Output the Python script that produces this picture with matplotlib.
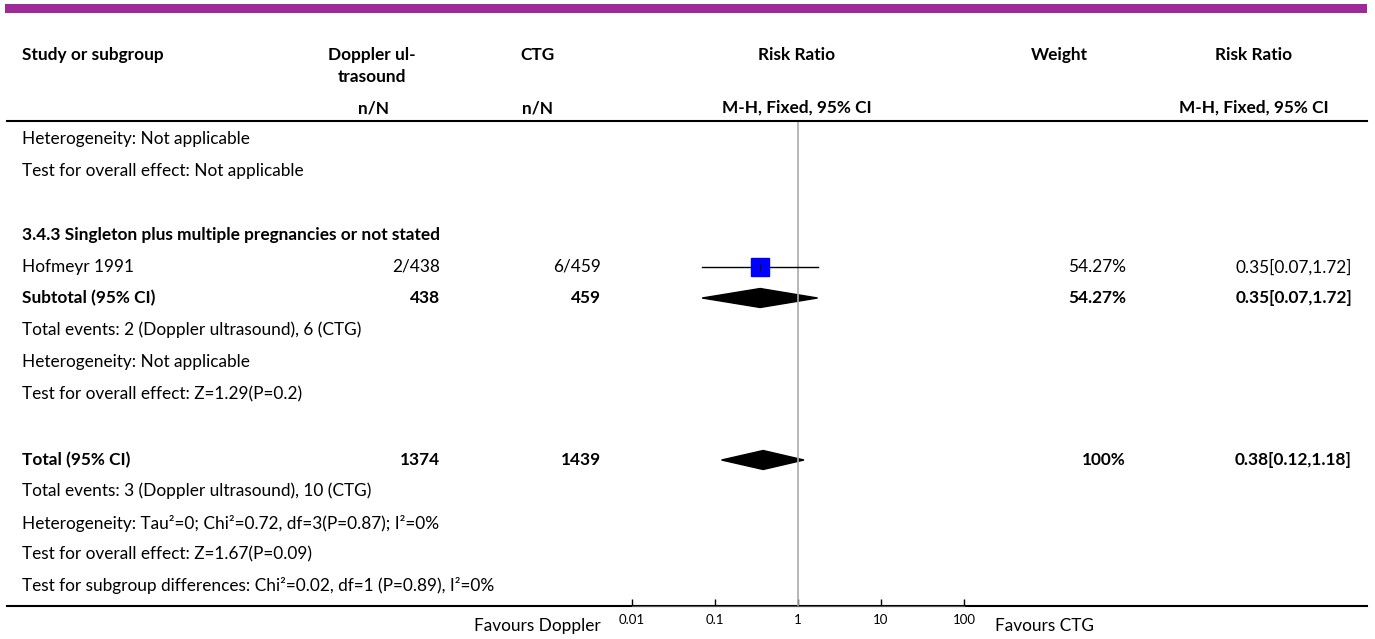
import matplotlib.pyplot as plt
from matplotlib.patches import Polygon, Rectangle

plt.rcParams['font.family'] = ['Lato', 'DejaVu Sans']

# data
study_names = ['Hofmeyr 1991']
doppler_nN = ['2/438']
ctg_nN = ['6/459']
study_rr = [0.35]
study_lo = [0.07]
study_hi = [1.72]
study_weight = ['54.27%']
study_ci_text = ['0.35[0.07,1.72]']

sub_rr, sub_lo, sub_hi = 0.35, 0.07, 1.72
tot_rr, tot_lo, tot_hi = 0.38, 0.12, 1.18
xticks = [0.01, 0.1, 1, 10, 100]
xtick_labels = ['0.01', '0.1', '1', '10', '100']

W, H = 1375, 639
fig = plt.figure(figsize=(W / 100, H / 100), dpi=100)
ax = fig.add_axes([0, 0, 1, 1])
ax.set_xlim(0, W)
ax.set_ylim(H, 0)
ax.axis('off')

fs = 12.4
purple = '#9e2a99'

# top bar
ax.add_patch(Rectangle((5, 4), 1362, 9, color=purple, lw=0))

# header
def hdr(x, y, s, ha='center'):
    ax.text(x, y, s, ha=ha, va='center', fontsize=fs, fontweight='bold')

hdr(22, 55, 'Study or subgroup', ha='left')
hdr(372, 55, 'Doppler ul-')
hdr(372, 77, 'trasound')
hdr(374, 108, 'n/N')
hdr(538, 55, 'CTG')
hdr(538, 108, 'n/N')
hdr(797, 55, 'Risk Ratio')
hdr(797, 108, 'M-H, Fixed, 95% CI')
hdr(1059, 55, 'Weight')
hdr(1254, 55, 'Risk Ratio')
hdr(1254, 108, 'M-H, Fixed, 95% CI')

ax.plot([7, 1367], [121, 121], color='black', lw=1.5)
ax.plot([7, 1367], [606, 606], color='black', lw=1.5)

def txt(x, y, s, ha='left', bold=False):
    ax.text(x, y, s, ha=ha, va='center', fontsize=fs,
            fontweight='bold' if bold else 'normal')

txt(22, 139, 'Heterogeneity: Not applicable')
txt(22, 171, 'Test for overall effect: Not applicable')
txt(22, 235, '3.4.3 Singleton plus multiple pregnancies or not stated', bold=True)

row_y = [267]
for i, y in enumerate(row_y):
    txt(22, y, study_names[i])
    txt(440, y, doppler_nN[i], ha='right')
    txt(601, y, ctg_nN[i], ha='right')
    txt(1126, y, study_weight[i], ha='right')
    txt(1352, y, study_ci_text[i], ha='right')

txt(22, 298, 'Subtotal (95% CI)', bold=True)
txt(440, 298, '438', ha='right', bold=True)
txt(601, 298, '459', ha='right', bold=True)
txt(1126, 298, '54.27%', ha='right', bold=True)
txt(1352, 298, '0.35[0.07,1.72]', ha='right', bold=True)
txt(22, 330, 'Total events: 2 (Doppler ultrasound), 6 (CTG)')
txt(22, 362, 'Heterogeneity: Not applicable')
txt(22, 394, 'Test for overall effect: Z=1.29(P=0.2)')

txt(22, 460, 'Total (95% CI)', bold=True)
txt(440, 460, '1374', ha='right', bold=True)
txt(601, 460, '1439', ha='right', bold=True)
txt(1126, 460, '100%', ha='right', bold=True)
txt(1352, 460, '0.38[0.12,1.18]', ha='right', bold=True)
txt(22, 491, 'Total events: 3 (Doppler ultrasound), 10 (CTG)')
txt(22, 523, 'Heterogeneity: Tau²=0; Chi²=0.72, df=3(P=0.87); I²=0%')
txt(22, 554, 'Test for overall effect: Z=1.67(P=0.09)')
txt(22, 586, 'Test for subgroup differences: Chi²=0.02, df=1 (P=0.89), I²=0%')

txt(601, 626, 'Favours Doppler', ha='right')
txt(995, 626, 'Favours CTG')

# forest axes: x 632..964 px, y 122..606 px
x0, x1 = 632, 964
y_top, y_bot = 122, 606
fa = fig.add_axes([x0 / W, 1 - y_bot / H, (x1 - x0) / W, (y_bot - y_top) / H])
fa.set_xscale('log')
fa.set_xlim(0.01, 100)
fa.set_ylim(y_bot, y_top)
fa.patch.set_alpha(0)
for s in ['top', 'right', 'left']:
    fa.spines[s].set_visible(False)
fa.spines['bottom'].set_color('#555555')
fa.set_yticks([])
fa.minorticks_off()
fa.set_xticks(xticks)
fa.set_xticklabels(xtick_labels, fontsize=9.5)
fa.tick_params(axis='x', direction='in', length=5, width=1, pad=6)
fa.axvline(1, color='#aaaaaa', lw=1.2)

for i, y in enumerate(row_y):
    fa.plot([study_lo[i], study_hi[i]], [y, y], color='black', lw=1)
    fa.plot(study_rr[i], y, marker='s', ms=13, color='#0000ff', mec='#0000ff')
    fa.plot([study_rr[i], study_rr[i]], [y - 3, y + 3], color='black', lw=0.8)

def diamond(rr, lo, hi, y, h=9.5):
    fa.add_patch(Polygon([(lo, y), (rr, y - h), (hi, y), (rr, y + h)],
                         closed=True, color='black', transform=fa.transData))

diamond(sub_rr, sub_lo, sub_hi, 298)
diamond(tot_rr, tot_lo, tot_hi, 460)

fig.savefig('out.png', dpi=100)
